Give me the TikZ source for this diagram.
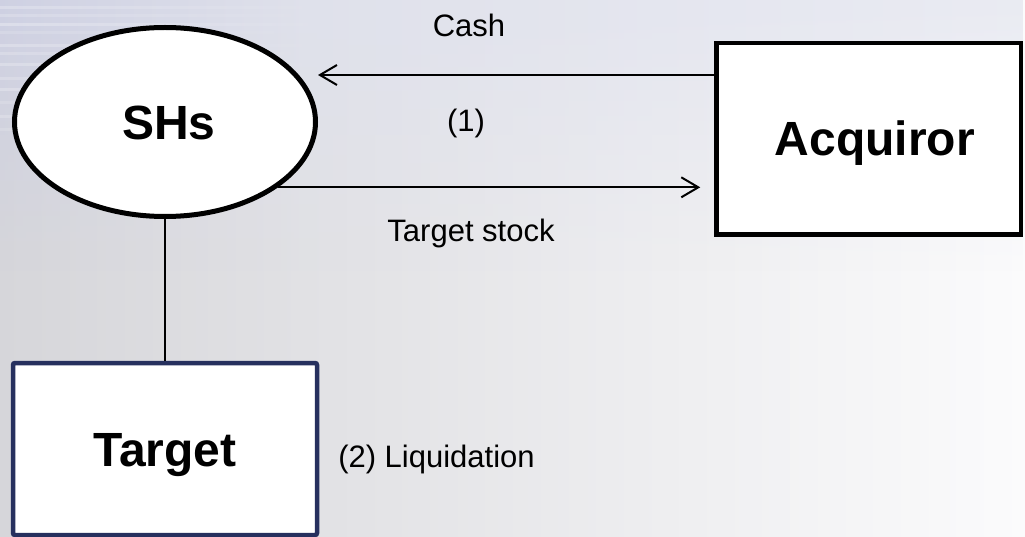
\documentclass[tikz,border=0pt]{standalone}
\usepackage{fontspec}
\setmainfont{Liberation Sans}
\usetikzlibrary{arrows.meta,fadings,shapes.geometric}

\definecolor{bgleft}{RGB}{214,214,218}
\definecolor{bgright}{RGB}{251,251,252}
\definecolor{navy}{RGB}{38,48,94}

% bluish haze that is strongest at the far left
\pgfdeclarehorizontalshading{haze}{100bp}{%
  rgb(0bp)=(0.627,0.651,0.792);
  rgb(12bp)=(0.75,0.76,0.86);
  rgb(40bp)=(0.875,0.882,0.925);
  rgb(100bp)=(0.945,0.949,0.969)}

\tikzset{
  bigtext/.style={font=\fontsize{48}{52}\selectfont\bfseries, text height=34.4pt, text depth=0pt, inner sep=0pt},
  smalltext/.style={font=\fontsize{31}{35}\selectfont, inner sep=0pt, anchor=base},
  party/.style={draw=black, line width=4.5pt, fill=white, rectangle, bigtext},
  holders/.style={draw=black, line width=5pt, fill=white, ellipse, bigtext},
  company/.style={draw=navy, line width=4.5pt, fill=white, rectangle, rounded corners=2pt, bigtext},
  flow/.style={line width=2pt, -{Straight Barb[length=17pt,width=20pt,line width=2pt]}},
  link/.style={line width=2pt}
}

\begin{document}
\begin{tikzpicture}[x=1pt,y=-1pt]
  \useasboundingbox (0,0) rectangle (1025,537);

  % backdrop: grey-to-white wash with a bluish haze in the upper left
  \shade[left color=bgleft, right color=bgright] (0,0) rectangle (1025,537);
  \shade[shading=haze, path fading=south] (0,0) rectangle (1025,270);
  \foreach \yy/\op in {6/0.25,14/0.2,23/0.3,31/0.15,44/0.25,52/0.2,63/0.25,77/0.2,88/0.25,101/0.15,115/0.2,128/0.15}{
    \fill[white, opacity=\op, path fading=east] (0,\yy) rectangle (340,\yy+3);
  }

  % parties
  \node[holders, minimum width=301pt, minimum height=189pt] (sh) at (165,122) {\hspace*{8pt}SHs};
  \node[party, minimum width=304.5pt, minimum height=191.5pt] (acq) at (868.75,138.75) {\hspace*{12pt}Acquiror};
  \node[company, minimum width=304pt, minimum height=172pt] (tgt) at (165,449) {Target};

  % flows
  \draw[flow] ([yshift=63.75pt]acq.west) -- ([yshift=63.75pt]acq.west -| sh.east);
  \draw[flow, shorten >=14pt] (sh.-30) -- (sh.-30 -| acq.west);
  \draw[link] (sh.south) -- (tgt.north);

  % labels
  \node[smalltext] (cash) at (469,36.7) {Cash};
  \node[smalltext] (step1) at (466,132) {(1)};
  \node[smalltext] (stock) at (471,242) {Target stock};
  \node[smalltext] (liq) at (436.5,467) {(2) Liquidation};
\end{tikzpicture}
\end{document}
